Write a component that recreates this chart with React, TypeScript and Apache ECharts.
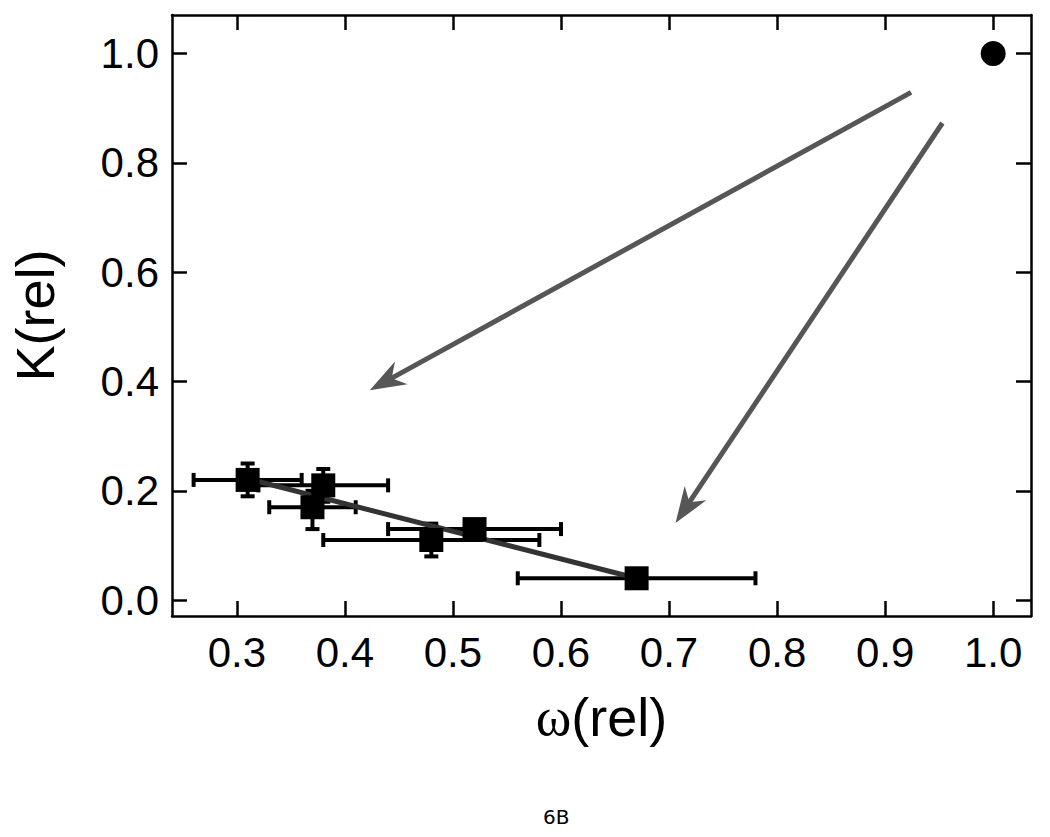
import React, { useEffect, useRef } from "react";
import * as echarts from "echarts";

const xTicks = [0.3, 0.4, 0.5, 0.6, 0.7, 0.8, 0.9, 1.0];
const yTicks = [0.0, 0.2, 0.4, 0.6, 0.8, 1.0];

const omega = [0.31, 0.38, 0.37, 0.48, 0.52, 0.67];
const kappa = [0.22, 0.21, 0.17, 0.11, 0.13, 0.04];
const omegaLow = [0.26, 0.32, 0.33, 0.38, 0.44, 0.56];
const omegaHigh = [0.36, 0.44, 0.41, 0.58, 0.6, 0.78];
const kappaLow = [0.19, 0.18, 0.13, 0.08, 0.12, 0.03];
const kappaHigh = [0.25, 0.24, 0.2, 0.14, 0.14, 0.05];

const refOmega = [1.0];
const refKappa = [1.0];

const fitOmega = [0.31, 0.67];
const fitKappa = [0.222, 0.04];

const arrowFromOmega = [0.924, 0.953];
const arrowFromKappa = [0.929, 0.873];
const arrowToOmega = [0.423, 0.706];
const arrowToKappa = [0.384, 0.141];

const figureLabel = "6B";

export default function App() {
  const ref = useRef<HTMLDivElement>(null);
  useEffect(() => {
    if (!ref.current) return;
    const chart = echarts.init(ref.current, undefined, { renderer: "svg" });
    const font = "Liberation Sans, Arial, sans-serif";
    const axisLineStyle = { color: "#000", width: 2.5 };

    const errData = omega.map((x, i) => [x, kappa[i], omegaLow[i], omegaHigh[i], kappaLow[i], kappaHigh[i]]);
    const arrowData = arrowFromOmega.map((x, i) => [x, arrowFromKappa[i], arrowToOmega[i], arrowToKappa[i]]);

    const option: any = {
      animation: false,
      backgroundColor: "#fff",
      grid: { left: 170, top: 15, width: 861, height: 601, containLabel: false },
      xAxis: [
        {
          type: "value",
          position: "bottom",
          min: 0.24,
          max: 1.035,
          axisLine: { show: true, onZero: false, lineStyle: axisLineStyle },
          axisTick: { show: true, inside: true, length: 15, lineStyle: axisLineStyle, customValues: xTicks },
          axisLabel: {
            show: true,
            customValues: xTicks,
            formatter: (v: number) => v.toFixed(1),
            fontSize: 42,
            color: "#000",
            fontFamily: font,
            margin: 15,
          },
          splitLine: { show: false },
          name: "{w|ω}(rel)",
          nameLocation: "middle",
          nameGap: 74,
          nameTextStyle: {
            fontSize: 54,
            color: "#000",
            fontFamily: font,
            rich: { w: { fontSize: 54, fontFamily: "Liberation Serif, DejaVu Serif, serif", color: "#000" } },
          },
        },
        {
          type: "value",
          position: "top",
          min: 0.24,
          max: 1.035,
          axisLine: { show: true, onZero: false, lineStyle: axisLineStyle },
          axisTick: { show: true, inside: true, length: 15, lineStyle: axisLineStyle, customValues: xTicks },
          axisLabel: { show: false },
          splitLine: { show: false },
        },
      ],
      yAxis: [
        {
          type: "value",
          position: "left",
          min: -0.029,
          max: 1.0706,
          axisLine: { show: true, onZero: false, lineStyle: axisLineStyle },
          axisTick: { show: true, inside: true, length: 15, lineStyle: axisLineStyle, customValues: yTicks },
          axisLabel: {
            show: true,
            customValues: yTicks,
            formatter: (v: number) => v.toFixed(1),
            fontSize: 42,
            color: "#000",
            fontFamily: font,
            margin: 13,
          },
          splitLine: { show: false },
          name: "K(rel)",
          nameLocation: "middle",
          nameGap: 110,
          nameTextStyle: { fontSize: 54, color: "#000", fontFamily: font },
        },
        {
          type: "value",
          position: "right",
          min: -0.029,
          max: 1.0706,
          axisLine: { show: true, onZero: false, lineStyle: axisLineStyle },
          axisTick: { show: true, inside: true, length: 15, lineStyle: axisLineStyle, customValues: yTicks },
          axisLabel: { show: false },
          splitLine: { show: false },
        },
      ],
      series: [
        {
          type: "custom",
          name: "errors",
          xAxisIndex: 0,
          yAxisIndex: 0,
          z: 1,
          encode: { x: 0, y: 1 },
          data: errData,
          renderItem: (params: any, api: any) => {
            const x = api.value(0), y = api.value(1);
            const pL = api.coord([api.value(2), y]);
            const pR = api.coord([api.value(3), y]);
            const pB = api.coord([x, api.value(4)]);
            const pT = api.coord([x, api.value(5)]);
            const hc = 7;
            const vc = 7;
            const style = { stroke: "#000", lineWidth: 4 };
            return {
              type: "group",
              children: [
                { type: "line", shape: { x1: pL[0], y1: pL[1], x2: pR[0], y2: pR[1] }, style },
                { type: "line", shape: { x1: pL[0], y1: pL[1] - hc, x2: pL[0], y2: pL[1] + hc }, style },
                { type: "line", shape: { x1: pR[0], y1: pR[1] - hc, x2: pR[0], y2: pR[1] + hc }, style },
                { type: "line", shape: { x1: pB[0], y1: pB[1], x2: pT[0], y2: pT[1] }, style },
                { type: "line", shape: { x1: pB[0] - vc, y1: pB[1], x2: pB[0] + vc, y2: pB[1] }, style },
                { type: "line", shape: { x1: pT[0] - vc, y1: pT[1], x2: pT[0] + vc, y2: pT[1] }, style },
              ],
            };
          },
        },
        {
          type: "line",
          name: "fit",
          xAxisIndex: 0,
          yAxisIndex: 0,
          z: 2,
          symbol: "none",
          data: fitOmega.map((x, i) => [x, fitKappa[i]]),
          lineStyle: { color: "#333", width: 5 },
        },
        {
          type: "scatter",
          name: "data",
          xAxisIndex: 0,
          yAxisIndex: 0,
          z: 3,
          symbol: "rect",
          symbolSize: 24,
          itemStyle: { color: "#000", opacity: 1 },
          data: omega.map((x, i) => [x, kappa[i]]),
        },
        {
          type: "scatter",
          name: "reference",
          xAxisIndex: 0,
          yAxisIndex: 0,
          z: 3,
          symbol: "circle",
          symbolSize: 25,
          itemStyle: { color: "#000", opacity: 1 },
          data: refOmega.map((x, i) => [x, refKappa[i]]),
        },
        {
          type: "custom",
          name: "arrows",
          xAxisIndex: 0,
          yAxisIndex: 0,
          z: 4,
          encode: { x: [0, 2], y: [1, 3] },
          data: arrowData,
          renderItem: (params: any, api: any) => {
            const s = api.coord([api.value(0), api.value(1)]);
            const e = api.coord([api.value(2), api.value(3)]);
            const dx = s[0] - e[0], dy = s[1] - e[1];
            const len = Math.hypot(dx, dy);
            const ux = dx / len, uy = dy / len;
            const px = -uy, py = ux;
            const L = 36, W = 13, N = 25;
            const notch = [e[0] + ux * N, e[1] + uy * N];
            const col = "#565656";
            return {
              type: "group",
              children: [
                {
                  type: "line",
                  shape: { x1: s[0], y1: s[1], x2: notch[0] - ux * 2, y2: notch[1] - uy * 2 },
                  style: { stroke: col, lineWidth: 5 },
                },
                {
                  type: "polygon",
                  shape: {
                    points: [
                      [e[0], e[1]],
                      [e[0] + ux * L + px * W, e[1] + uy * L + py * W],
                      notch,
                      [e[0] + ux * L - px * W, e[1] + uy * L - py * W],
                    ],
                  },
                  style: { fill: col },
                },
              ],
            };
          },
        },
      ],
      graphic: [
        {
          type: "text",
          left: 543,
          top: 807,
          style: { text: figureLabel, fontSize: 20, fontFamily: "DejaVu Sans, sans-serif", fill: "#000" },
        },
      ],
    };
    chart.setOption(option);
    return () => chart.dispose();
  }, []);
  return (
    <div
      ref={ref}
      style={{ position: "fixed", left: 0, top: 0, width: 1050, height: 837, background: "#fff" }}
    />
  );
}
